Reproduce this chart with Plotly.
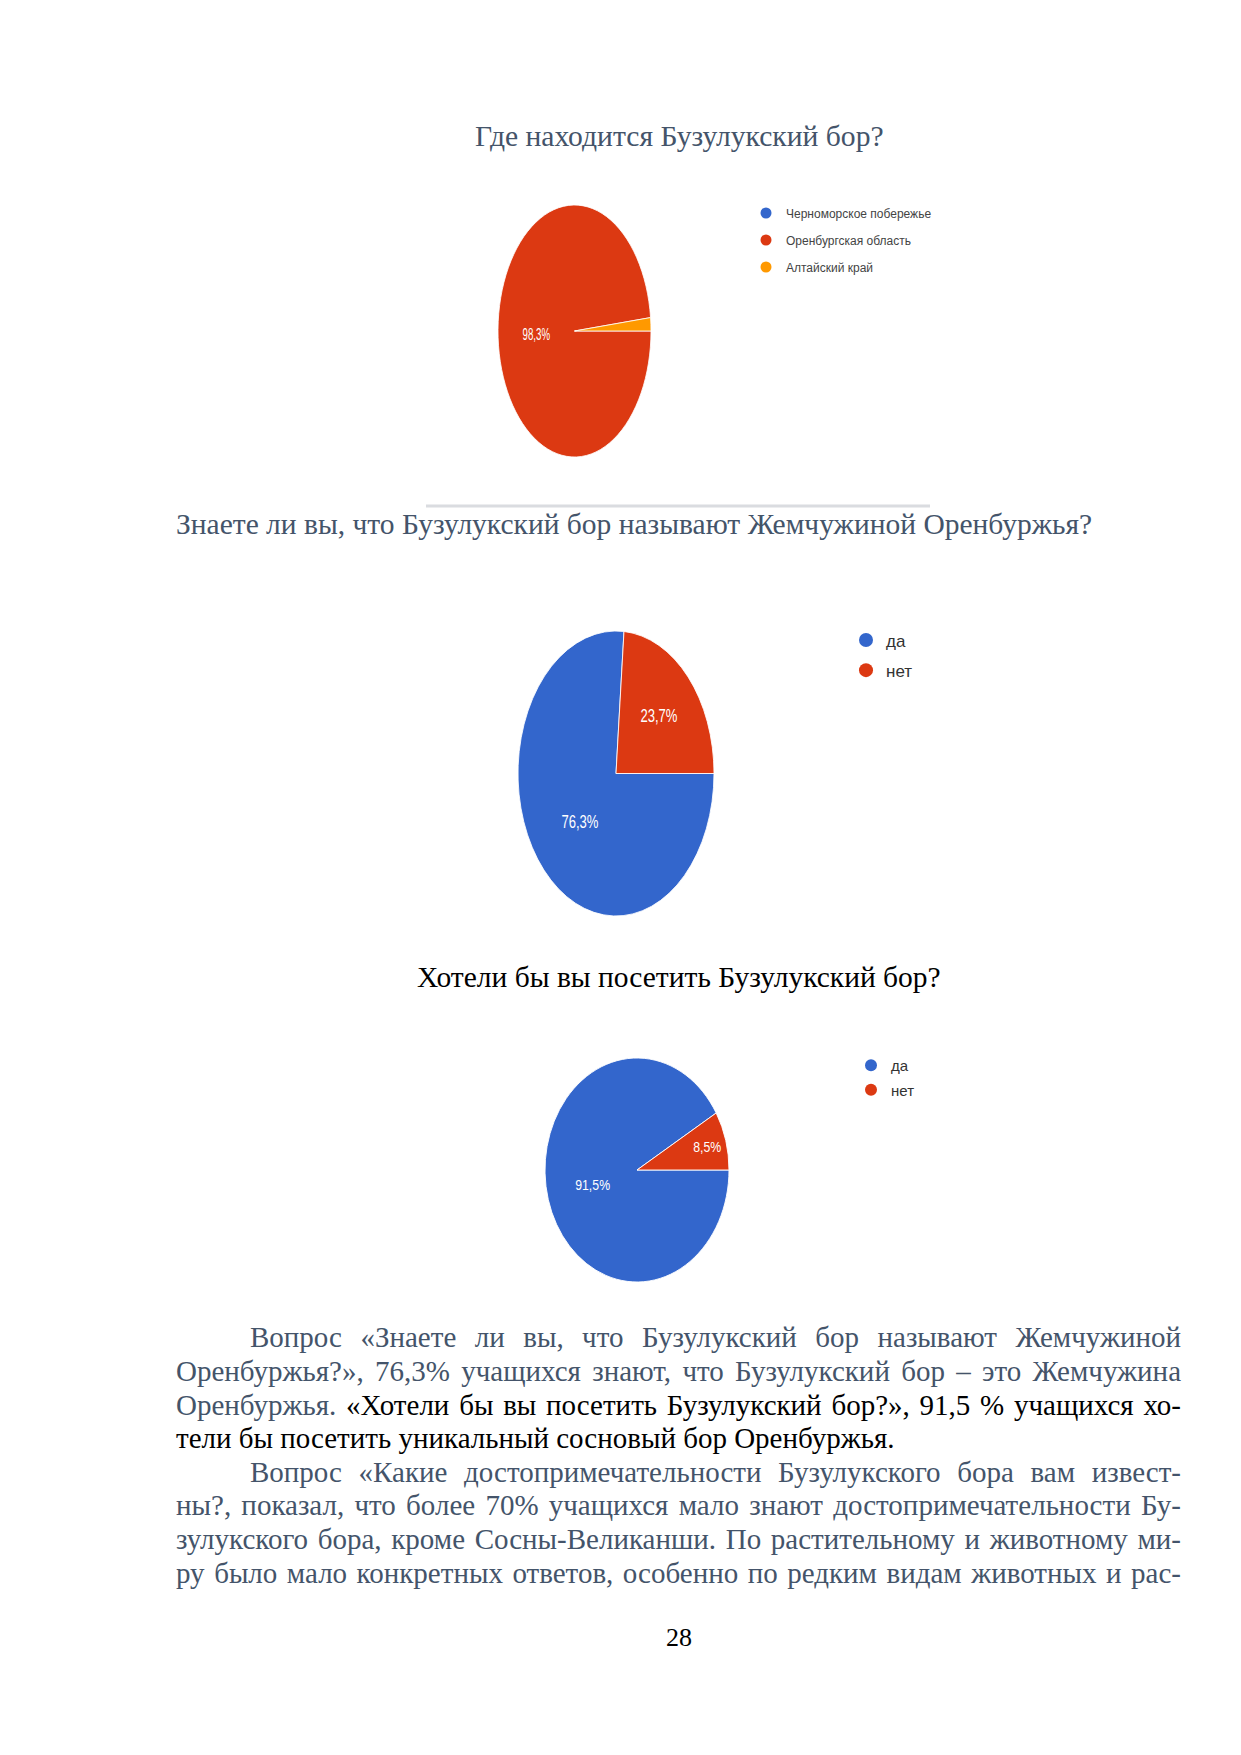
import plotly.graph_objects as go

W, H = 1241, 1755

# ---------------- data ----------------
q1_title = "Где находится Бузулукский бор?"
q1_labels = ["Черноморское побережье", "Оренбургская область", "Алтайский край"]
q1_values = [0.0, 98.3, 1.7]
q1_colors = ["#3366cc", "#dc3912", "#ff9900"]

q2_title = "Знаете ли вы, что Бузулукский бор называют Жемчужиной Оренбуржья?"
q2_labels = ["да", "нет"]
q2_values = [76.3, 23.7]

q3_title = "Хотели бы вы посетить Бузулукский бор?"
q3_labels = ["да", "нет"]
q3_values = [91.5, 8.5]

yn_colors = ["#3366cc", "#dc3912"]

SLATE = "#44546a"
body_lines = [
    ("Вопрос «Знаете ли вы, что Бузулукский бор называют Жемчужиной", True, True),
    ("Оренбуржья?», 76,3% учащихся знают, что Бузулукский бор – это Жемчужина", False, True),
    ("Оренбуржья. <span style='color:#000000'>«Хотели бы вы посетить Бузулукский бор?», 91,5 % учащихся хо-</span>", False, True),
    ("<span style='color:#000000'>тели бы посетить уникальный сосновый бор Оренбуржья.</span>", False, False),
    ("Вопрос «Какие достопримечательности Бузулукского бора вам извест-", True, True),
    ("ны?, показал, что более 70% учащихся мало знают достопримечательности Бу-", False, True),
    ("зулукского бора, кроме Сосны-Великанши. По растительному и животному ми-", False, True),
    ("ру было мало конкретных ответов, особенно по редким видам животных и рас-", False, True),
]
page_number = "28"

# ---------------- helpers ----------------
def px_x(x):
    return x / W

def px_y(y):
    return 1 - y / H

def pie_domain(cx, cy, d):
    r = d / 2
    return dict(x=[px_x(cx - r), px_x(cx + r)], y=[px_y(cy + r), px_y(cy - r)])

fig = go.Figure()

# pies (drawn circular, squeezed horizontally afterwards like the pasted images)
fig.add_trace(go.Pie(
    labels=q1_labels, values=q1_values, sort=False, direction="clockwise", rotation=90,
    marker=dict(colors=q1_colors, line=dict(color="white", width=1)),
    texttemplate=["", "%{value:.1f}%", ""], textposition="inside",
    insidetextorientation="horizontal",
    textfont=dict(family="Liberation Sans, Arial", size=16, color="white"),
    domain=pie_domain(574.5, 331, 252), showlegend=False, hoverinfo="label+percent",
))
fig.add_trace(go.Pie(
    labels=q2_labels, values=q2_values, sort=False, direction="clockwise", rotation=90,
    marker=dict(colors=yn_colors, line=dict(color="white", width=1)),
    texttemplate="%{value:.1f}%", textposition="inside",
    insidetextorientation="horizontal",
    textfont=dict(family="Liberation Sans, Arial", size=19, color="white"),
    domain=pie_domain(616, 773.5, 285), showlegend=False, hoverinfo="label+percent",
))
fig.add_trace(go.Pie(
    labels=q3_labels, values=q3_values, sort=False, direction="clockwise", rotation=90,
    marker=dict(colors=yn_colors, line=dict(color="white", width=1)),
    texttemplate="%{value:.1f}%", textposition="inside",
    insidetextorientation="horizontal",
    textfont=dict(family="Liberation Sans, Arial", size=15, color="white"),
    domain=pie_domain(637, 1170, 224), showlegend=False, hoverinfo="label+percent",
))

# legend entries with round markers
for i, (lab, col) in enumerate(zip(q1_labels, q1_colors)):
    fig.add_trace(go.Scatter(x=[None], y=[None], mode="markers", name=lab,
                             marker=dict(color=col, size=11, symbol="circle"),
                             legend="legend", legendgroup=f"a{i}"))
for i, (lab, col) in enumerate(zip(q2_labels, yn_colors)):
    fig.add_trace(go.Scatter(x=[None], y=[None], mode="markers", name=lab,
                             marker=dict(color=col, size=14, symbol="circle"),
                             legend="legend2", legendgroup=f"b{i}"))
for i, (lab, col) in enumerate(zip(q3_labels, yn_colors)):
    fig.add_trace(go.Scatter(x=[None], y=[None], mode="markers", name=lab,
                             marker=dict(color=col, size=12, symbol="circle"),
                             legend="legend3", legendgroup=f"c{i}"))

TFONT = "Liberation Serif, Times New Roman"
ann = []
ann.append(dict(text=q1_title, x=px_x(679.5), y=px_y(135.5), xanchor="center", yanchor="middle",
                font=dict(family=TFONT, size=29.6, color=SLATE)))
ann.append(dict(text=q2_title, x=px_x(634), y=px_y(524), xanchor="center", yanchor="middle",
                font=dict(family=TFONT, size=29.5, color=SLATE)))
ann.append(dict(text=q3_title, x=px_x(679), y=px_y(977), xanchor="center", yanchor="middle",
                font=dict(family=TFONT, size=29.5, color="#000000")))

line_y = [1337, 1371, 1404.5, 1438, 1472, 1505, 1539, 1573]
RIGHT = 1182
for (txt, indent, justify), ly in zip(body_lines, line_y):
    left = 251 if indent else 177
    ann.append(dict(text=txt, x=px_x(left - 3), y=px_y(ly), xanchor="left", yanchor="middle",
                    align="left", name=(f"justify:{RIGHT - left}" if justify else "plain"),
                    font=dict(family=TFONT, size=29, color=SLATE)))
ann.append(dict(text=page_number, x=px_x(679), y=px_y(1637), xanchor="center", yanchor="middle",
                font=dict(family=TFONT, size=26, color="#000000")))
for a in ann:
    a.update(xref="paper", yref="paper", showarrow=False)

leg_common = dict(xanchor="left", yanchor="top", bgcolor="rgba(0,0,0,0)",
                  traceorder="grouped", itemwidth=30)
fig.update_layout(
    width=W, height=H, autosize=False,
    margin=dict(l=0, r=0, t=0, b=0, pad=0),
    paper_bgcolor="white", plot_bgcolor="white",
    separators=", ",
    xaxis=dict(visible=False), yaxis=dict(visible=False),
    annotations=ann,
    shapes=[dict(type="line", xref="paper", yref="paper", x0=px_x(426), x1=px_x(930),
                 y0=px_y(506), y1=px_y(506), line=dict(color="#dadce0", width=3))],
    legend=dict(x=px_x(746), y=px_y(198.5), tracegroupgap=8,
                font=dict(family="Liberation Sans Narrow, Liberation Sans", size=12, color="#444444"),
                **leg_common),
    legend2=dict(x=px_x(846), y=px_y(622.5), tracegroupgap=5,
                 font=dict(family="Liberation Sans Narrow, Liberation Sans", size=17, color="#333333"),
                 **leg_common),
    legend3=dict(x=px_x(851), y=px_y(1049), tracegroupgap=2,
                 font=dict(family="Liberation Sans Narrow, Liberation Sans", size=15, color="#333333"),
                 **leg_common),
)

post = """
document.body.style.margin = '0';
var gd = document.getElementById('{plot_id}');
var sq = [153/252, 196/285, 184/224];
gd.querySelectorAll('.pielayer g.trace').forEach(function(tr, k){
  var bb = tr.getBBox();
  var cx = bb.x + bb.width/2, cy = bb.y + bb.height/2;
  tr.setAttribute('transform', 'translate(' + cx + ',' + cy + ') scale(' + sq[k] + ',1) translate(' + (-cx) + ',' + (-cy) + ')');
});
var anns = gd.layout.annotations;
gd.querySelectorAll('g.annotation').forEach(function(g){
  var i = +g.getAttribute('data-index');
  var a = anns[i];
  if (a && a.name && a.name.indexOf('justify:') === 0) {
    var t = g.querySelector('text.annotation-text');
    if (!t) return;
    var target = parseFloat(a.name.split(':')[1]);
    var len = t.getComputedTextLength();
    var nsp = (t.textContent.match(/ /g) || []).length;
    if (nsp > 0 && target > len) { t.style.wordSpacing = ((target - len) / nsp) + 'px'; }
  }
});
"""
fig.write_html("out.html", post_script=post, config={"displayModeBar": False})
